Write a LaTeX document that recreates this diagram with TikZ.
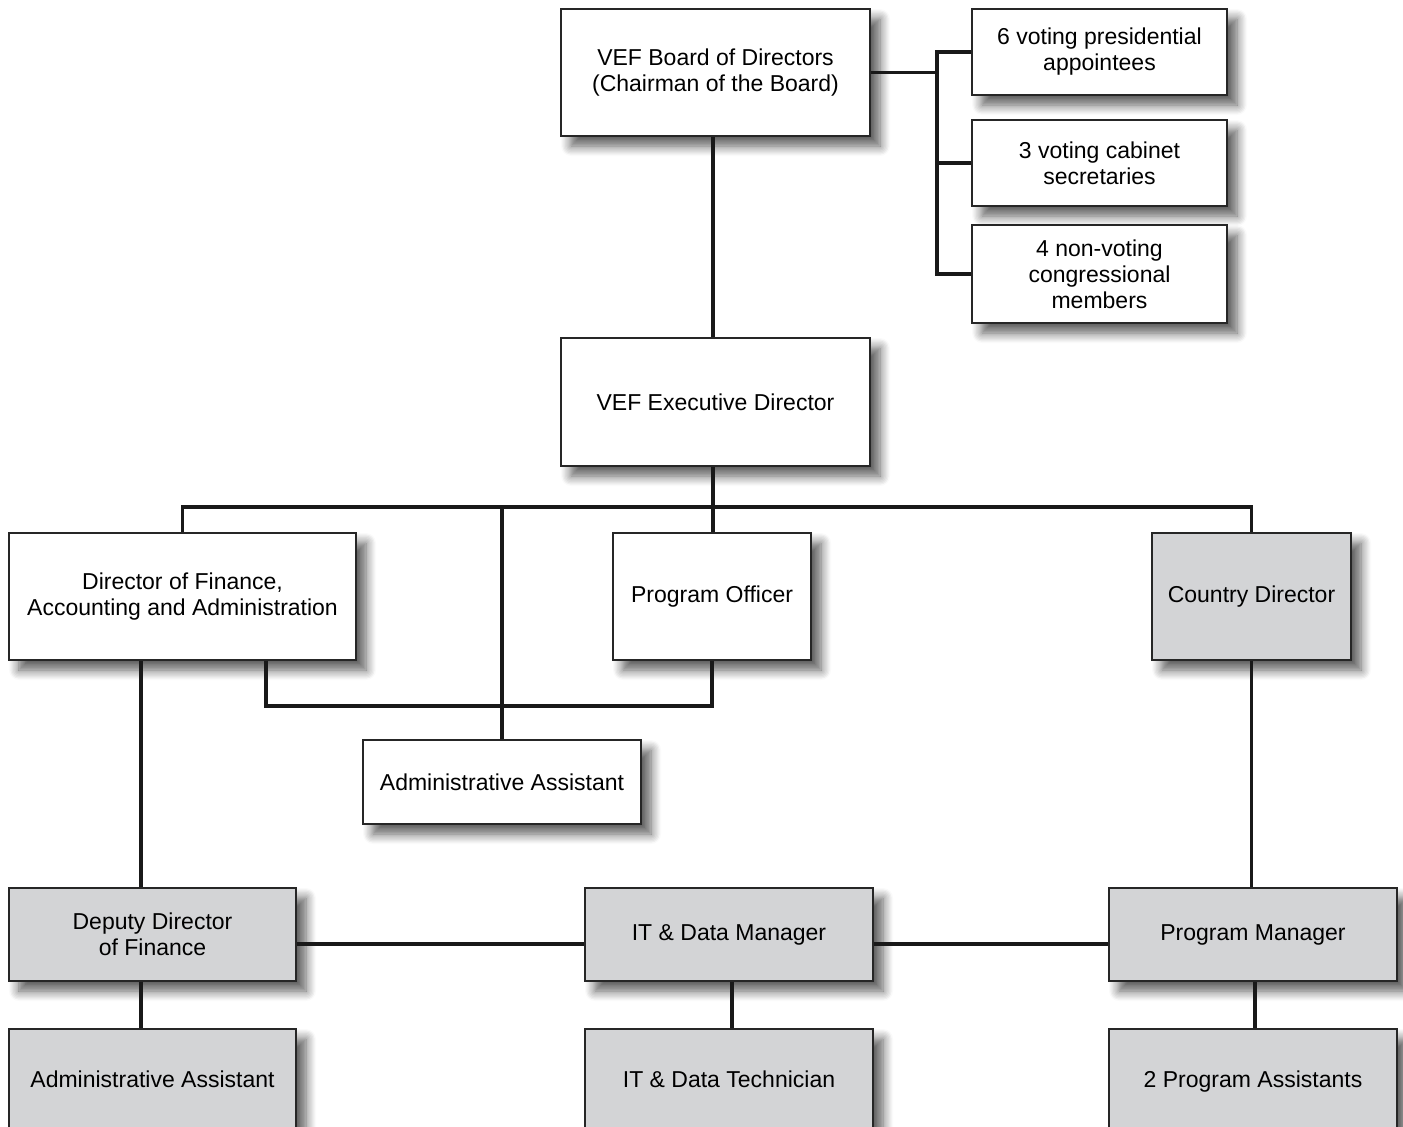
\documentclass[tikz,border=0pt]{standalone}
\usepackage{fontspec}
\setmainfont{Liberation Sans}
\usetikzlibrary{shadows.blur}
\definecolor{boxgray}{RGB}{211,212,214}
\tikzset{
  box/.style={draw=black!85, line width=0.8pt, fill=white, align=center,
    font=\fontsize{11.5}{13}\selectfont, inner sep=2pt,
    blur shadow={shadow xshift=5pt, shadow yshift=-5pt, shadow blur radius=5pt,
      shadow blur steps=8, shadow opacity=65}},
  gbox/.style={box, fill=boxgray},
  link/.style={line width=1.6pt, black!90}
}
\begin{document}
\begin{tikzpicture}[x=0.5pt,y=-0.5pt]
\useasboundingbox (0,0) rectangle (1403,1126);

% Text Node
\node (board) [box, minimum width=154.5pt, minimum height=63.5pt] at (715.5,72.5) {VEF Board of Directors\\(Chairman of the Board)};
% Text Node
\node (v6) [box, minimum width=127.5pt, minimum height=43pt] at (1099.5,52) {6 voting presidential\\appointees};
% Text Node
\node (v3) [box, minimum width=127.5pt, minimum height=43pt] at (1099.5,163) {3 voting cabinet\\secretaries};
% Text Node
\node (v4) [box, minimum width=127.5pt, minimum height=49pt] at (1099.5,274) {4 non-voting\\congressional\\members};
% Text Node
\node (exec) [box, minimum width=154.5pt, minimum height=64pt] at (715.5,402) {VEF Executive Director};
% Text Node
\node (dfin) [box, minimum width=173.5pt, minimum height=63.5pt] at (182.5,596.5) {Director of Finance,\\Accounting and Administration};
% Text Node
\node (po) [box, minimum width=99pt, minimum height=63.5pt] at (712,596.5) {Program Officer};
% Text Node
\node (cdir) [gbox, minimum width=99.5pt, minimum height=63.5pt] at (1251.5,596.5) {Country Director};
% Text Node
\node (aa) [box, minimum width=139pt, minimum height=42pt] at (502,782) {Administrative Assistant};
% Text Node
\node (dep) [gbox, minimum width=143.5pt, minimum height=46.5pt] at (152.5,934.5) {Deputy Director\\of Finance};
% Text Node
\node (itm) [gbox, minimum width=144pt, minimum height=46.5pt] at (729,934.5) {IT \& Data Manager};
% Text Node
\node (pm) [gbox, minimum width=144pt, minimum height=46.5pt] at (1253,934.5) {Program Manager};
% Text Node
\node (aa2) [gbox, minimum width=143.5pt, minimum height=50pt] at (152.5,1079) {Administrative Assistant};
% Text Node
\node (tech) [gbox, minimum width=144pt, minimum height=50pt] at (729,1079) {IT \& Data Technician};
% Text Node
\node (pa) [gbox, minimum width=144pt, minimum height=50pt, text depth=0pt] at (1253,1079) {2 Program Assistants};

\coordinate (jb) at (937,72.5);
\coordinate (bus) at (713,507);
\coordinate (lk) at (266,706);

%Straight Lines
\draw [link] (board.east) -- (jb);
\draw [link] (v6.west) -| (jb);
\draw [link] (v4.west) -| (jb);
\draw [link] (v3.west) -- (v3.west -| jb);
%Straight Lines
\draw [link] (board.south -| bus) -- (exec.north -| bus);
\draw [link] (exec.south -| bus) -- (bus);
\draw [link] (dfin.north) |- (bus) -| (cdir.north);
\draw [link] (bus) -- (po.north -| bus);
\draw [link] (aa.north) -- (aa.north |- bus);
%Straight Lines
\draw [link] (lk |- dfin.south) -- (lk) -| (po.south);
\draw [link] ([xshift=-5.75pt]dep.north) -- ([xshift=-5.75pt]dep.north |- dfin.south);
\draw [link] (cdir.south) -- (cdir.south |- pm.north);
%Straight Lines
\draw [link] ([yshift=-4.75pt]dep.east) -- ([yshift=-4.75pt]itm.west);
\draw [link] ([yshift=-4.75pt]itm.east) -- ([yshift=-4.75pt]pm.west);
\draw [link] ([xshift=-5.75pt]dep.south) -- ([xshift=-5.75pt]aa2.north);
\draw [link] ([xshift=1.5pt]itm.south) -- ([xshift=1.5pt]tech.north);
\draw [link] ([xshift=1pt]pm.south) -- ([xshift=1pt]pa.north);

\end{tikzpicture}
\end{document}
